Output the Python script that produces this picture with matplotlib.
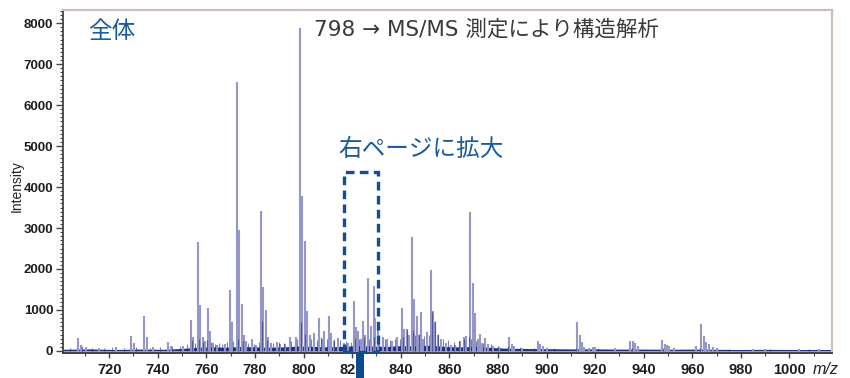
import matplotlib
matplotlib.use("Agg")
import matplotlib.pyplot as plt
from matplotlib.patches import Rectangle
from matplotlib.ticker import MultipleLocator
import matplotlib.transforms as mtransforms

# ----------------------------------------------------------
# Spectrum data (m/z, intensity)
# ----------------------------------------------------------
peak_mz = [
    707.2, 708.3, 710.5, 716.0, 723.0, 729.1, 730.1, 734.4, 735.4, 738.0,
    744.3, 745.3, 750.5, 753.7, 754.6, 756.5, 757.5, 758.5, 759.6, 760.6,
    761.6, 762.6, 764.5, 767.8, 769.6, 770.6, 772.5, 773.5, 774.5, 775.5,
    776.5, 778.6, 780.5, 782.5, 783.5, 784.5, 785.5, 786.5, 789.0, 790.5,
    792.5, 794.4, 796.8, 798.5, 799.5, 800.5, 801.5, 802.5, 804.5, 806.5,
    807.5, 808.4, 810.5, 811.5, 812.5, 814.1, 816.5, 818.5, 820.6, 821.6,
    822.6, 823.6, 824.6, 825.5, 826.7, 827.6, 828.8, 829.6, 830.6, 832.5,
    834.5, 836.5, 838.5, 840.5, 841.5, 842.5, 843.6, 844.6, 845.6, 846.6,
    847.5, 848.3, 849.3, 850.7, 852.5, 853.4, 854.3, 855.4, 856.5, 858.5,
    860.5, 862.5, 864.5, 866.2, 866.8, 868.6, 869.6, 870.5, 871.6, 872.7,
    873.6, 874.8, 875.8, 878.0, 880.5, 884.7, 885.6, 886.6, 890.0, 896.5,
    897.5, 898.5, 900.0, 912.5, 913.6, 914.6, 915.6, 917.5, 919.0, 920.0,
    928.0, 934.5, 935.5, 936.5, 937.5, 947.6, 948.6, 949.6, 950.6, 952.5,
    961.6, 963.6, 964.7, 965.8, 966.8, 968.7, 970.0, 985.0, 990.0, 1004.0,
    1012.0,
]
peak_int = [
    310, 150, 90, 80, 90, 370, 200, 845, 330, 100,
    230, 130, 120, 760, 340, 2650, 1130, 340, 250, 1060,
    480, 200, 150, 170, 1480, 700, 6570, 2960, 1140, 400,
    250, 280, 150, 3420, 1570, 1010, 330, 200, 210, 180,
    160, 330, 350, 7880, 3780, 2690, 970, 400, 450, 800,
    300, 490, 850, 450, 250, 310, 200, 200, 1220, 580,
    490, 300, 740, 400, 1770, 620, 1590, 800, 500, 350,
    300, 250, 330, 1060, 530, 530, 400, 2770, 1260, 860,
    400, 960, 300, 460, 1980, 980, 700, 400, 300, 200,
    150, 150, 250, 340, 370, 3380, 1660, 920, 290, 410,
    200, 320, 180, 120, 100, 350, 180, 120, 80, 250,
    180, 110, 70, 710, 390, 220, 100, 80, 100, 90,
    60, 240, 240, 200, 110, 270, 170, 140, 110, 70,
    120, 660, 370, 220, 170, 90, 60, 50, 50, 50,
    40,
]

# dark low-level signal close to the baseline
noise_mz = [
    704, 709, 713, 718, 721, 726, 731, 737, 741, 746,
    749, 752, 754.2, 755.5, 757, 758.8, 760.2, 762, 763.5, 765,
    766.5, 768.5, 771, 773, 775, 777, 779.5, 781.5, 782.8, 785,
    787.5, 790, 792, 795, 797.5, 799, 800.8, 803, 805.5, 807,
    809.5, 812.5, 815, 817.5, 819.5, 821, 823, 825, 827, 829,
    831, 833.5, 835.5, 837.5, 839.5, 841, 842.6, 845, 846, 847.5,
    849.5, 851.5, 852.8, 854, 855.5, 857.5, 859.5, 862, 864, 866,
    868, 869, 871, 874, 877, 880, 884, 889, 895, 903,
    912, 921, 935, 948, 963, 975, 992, 1008,
]
noise_int = [
    80, 110, 70, 60, 90, 70, 100, 80, 90, 110,
    130, 180, 260, 200, 300, 220, 260, 230, 180, 200,
    170, 210, 250, 280, 240, 200, 180, 230, 720, 260,
    200, 220, 190, 240, 280, 700, 420, 300, 260, 330,
    280, 300, 260, 240, 220, 320, 280, 350, 300, 340,
    380, 280, 260, 300, 280, 350, 520, 480, 380, 420,
    360, 400, 960, 720, 420, 300, 260, 230, 250, 280,
    330, 300, 250, 200, 160, 130, 110, 90, 80, 70,
    80, 70, 60, 60, 70, 50, 50, 45,
]

# baseline band
base_mz = [701, 712, 722, 732, 742, 750, 756, 762, 768, 774,
           780, 786, 792, 798, 804, 810, 816, 822, 828, 834,
           840, 846, 852, 858, 864, 870, 876, 882, 890, 900,
           910, 920, 930, 940, 950, 960, 970, 980, 990, 1000,
           1010, 1018]
base_int = [40, 50, 35, 45, 40, 60, 90, 100, 90, 110,
            100, 90, 100, 120, 110, 100, 110, 130, 120, 110,
            130, 120, 140, 110, 100, 110, 90, 70, 60, 55,
            50, 50, 45, 45, 40, 45, 40, 35, 40, 35,
            35, 35]

# zoom window shown on the next page
zoom_lo, zoom_hi, zoom_top = 816.7, 830.7, 4370
precursor_mz = 823.2

x_ticks = [720, 740, 760, 780, 800, 820, 840, 860, 880, 900, 920, 940, 960, 980, 1000]
y_ticks = [0, 1000, 2000, 3000, 4000, 5000, 6000, 7000, 8000]

# ----------------------------------------------------------
# Figure
# ----------------------------------------------------------
W, H = 850, 378
fig = plt.figure(figsize=(W / 100, H / 100), dpi=100, facecolor="white")
ax = fig.add_axes([63 / W, 1 - 353 / H, (832 - 63) / W, (353 - 10) / H])

PEAK = "#9596ca"
NAVY = "#22307f"
BLUE = "#1b5a9b"

ax.fill_between(base_mz, 0, base_int, color=NAVY, lw=0, zorder=2)
ax.vlines(peak_mz, 0, peak_int, color=PEAK, lw=1.5, zorder=3)
ax.vlines(noise_mz, 0, noise_int, color=NAVY, lw=0.8, alpha=0.6, zorder=4)

ax.set_xlim(701, 1017.5)
ax.set_ylim(-50, 8320)

# dashed zoom box
ax.add_patch(Rectangle((zoom_lo, -30), zoom_hi - zoom_lo, zoom_top + 30,
                       fill=False, edgecolor="#0f4f96", lw=2.4,
                       linestyle=(0, (2.6, 1.6)), zorder=6))

# precursor marker under the axis
trans = mtransforms.blended_transform_factory(ax.transData, ax.transAxes)
ax.add_patch(Rectangle((precursor_mz - 1.7, -0.08), 3.4, 0.08, transform=trans,
                       facecolor="#0c4a8c", edgecolor="none", clip_on=False, zorder=8))

# spines
for side in ["top", "right"]:
    ax.spines[side].set_color("#cbbfb8")
    ax.spines[side].set_linewidth(1.6)
ax.spines["left"].set_color("#4a4242")
ax.spines["left"].set_linewidth(1.3)
ax.spines["bottom"].set_color("#333333")
ax.spines["bottom"].set_linewidth(1.3)

ax.set_xticks(x_ticks)
ax.set_yticks(y_ticks)
ax.xaxis.set_minor_locator(MultipleLocator(10))
ax.yaxis.set_minor_locator(MultipleLocator(100))
ax.tick_params(axis="both", which="major", direction="out", color="#4a4242",
               width=1.0, pad=2)
ax.tick_params(axis="y", which="major", length=5)
ax.tick_params(axis="x", which="major", length=3.5, pad=4)
ax.tick_params(axis="both", which="minor", length=2.5, width=0.8, color="#4a4242")

for lab in ax.get_yticklabels():
    lab.set_fontfamily("Liberation Sans")
    lab.set_fontweight("bold")
    lab.set_fontsize(9.5)
    lab.set_color("#1e1e1e")
for lab in ax.get_xticklabels():
    lab.set_fontfamily("Liberation Sans")
    lab.set_fontweight("bold")
    lab.set_fontsize(10.5)
    lab.set_color("#1e1e1e")

fig.text(17 / W, 1 - 186 / H, "Intensity", fontsize=10, family="Liberation Sans",
         color="#222222", rotation=90, ha="center", va="center")
fig.text(826 / W, 1 - 370 / H, "m/z", fontsize=11.5, style="italic",
         family="Liberation Sans", ha="center", va="center", color="#222222")

# annotations
JP = ["Noto Sans CJK JP", "DejaVu Sans"]
LAT = ["DejaVu Sans", "Noto Sans CJK JP"]
fig.text(88 / W, 1 - 31 / H, "全体", fontsize=17, family=JP, color=BLUE,
         ha="left", va="center")
fig.text(314 / W, 1 - 29 / H, "798 → MS/MS 測定により構造解析", fontsize=15.5,
         family=LAT, color="#3a3a3a", ha="left", va="center")
fig.text(338 / W, 1 - 149 / H, "右ページに拡大", fontsize=17, family=JP, color=BLUE,
         ha="left", va="center")

fig.savefig("out.png", dpi=100, facecolor="white")
